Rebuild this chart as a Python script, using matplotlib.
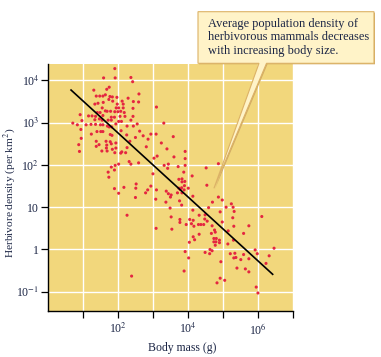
import numpy as np
import matplotlib
matplotlib.use("Agg")
import matplotlib.pyplot as plt
import matplotlib.transforms as mtransforms
from matplotlib.patches import Polygon

plt.rcParams['font.family'] = ['Liberation Serif', 'DejaVu Serif']
plt.rcParams['mathtext.fontset'] = 'stix'

# log10 of body mass (g) and herbivore density (per km^2)
log_mass = [
    1.90, 1.58, 1.91, 2.36, 2.41, 1.74, 1.67, 1.30, 1.63, 1.37,
    1.47, 1.56, 1.76, 1.83, 1.96, 1.73, 2.11, 2.28, 2.43, 2.59,
    2.58, 1.57, 1.84, 1.97, 2.14, 1.94, 2.01, 2.14, 2.42, 3.09,
    1.42, 1.33, 1.54, 1.63, 1.68, 1.78, 1.90, 1.99, 1.40, 1.48,
    2.07, 2.17, 0.91, 1.15, 1.25, 1.35, 1.56, 1.80, 1.89, 2.05,
    2.19, 2.42, 2.36, 1.46, 1.33, 1.54, 1.71, 1.80, 2.01, 2.09,
    0.70, 0.83, 0.96, 1.08, 1.22, 1.35, 1.49, 1.56, 1.69, 1.74,
    1.81, 1.93, 2.25, 2.43, 2.54, 3.30, 0.93, 1.23, 1.39, 1.50,
    1.56, 1.77, 1.82, 2.08, 2.24, 2.61, 2.93, 3.08, 2.49, 2.71,
    2.85, 0.94, 1.37, 1.65, 1.77, 1.45, 1.67, 1.80, 1.93, 2.33,
    0.87, 3.23, 0.89, 1.37, 1.53, 1.66, 1.68, 1.83, 1.90, 1.93,
    2.10, 2.07, 2.21, 2.25, 2.80, 3.39, 3.02, 3.11, 2.31, 2.36,
    2.58, 2.01, 1.91, 1.80, 1.89, 1.71, 1.73, 2.99, 3.31, 3.43,
    3.41, 2.51, 2.50, 2.16, 1.89, 2.01, 2.93, 2.84, 2.78, 3.09,
    3.37, 3.43, 2.49, 3.07, 3.36, 2.25, 3.08, 2.38, 3.57, 3.91,
    3.59, 3.91, 3.71, 3.91, 4.51, 4.86, 3.87, 4.11, 3.73, 3.82,
    3.82, 3.90, 3.73, 3.81, 3.89, 4.00, 3.77, 3.88, 3.69, 3.82,
    3.51, 3.49, 4.13, 4.53, 4.86, 4.97, 4.69, 4.58, 5.08, 5.23,
    5.28, 3.75, 3.81, 3.48, 4.13, 4.91, 5.31, 4.48, 4.31, 3.51,
    4.04, 4.14, 3.76, 3.76, 4.47, 4.54, 4.44, 4.29, 4.36, 5.27,
    4.97, 4.68, 4.09, 4.16, 3.94, 6.10, 5.73, 5.30, 3.53, 4.75,
    4.77, 4.66, 5.14, 4.31, 4.14, 4.18, 4.03, 4.73, 4.80, 4.89,
    4.73, 4.79, 4.89, 4.77, 5.13, 5.58, 5.29, 3.91, 4.48, 4.62,
    4.68, 4.61, 5.20, 5.33, 5.36, 5.30, 5.58, 5.50, 5.73, 5.91,
    5.97, 6.31, 6.45, 6.22, 4.01, 4.93, 5.39, 5.63, 5.73, 3.88,
    4.91, 5.04, 4.82, 5.94, 5.99,
]
log_density = [
    4.28, 4.06, 4.06, 4.07, 3.97, 3.84, 3.79, 3.77, 3.66, 3.63,
    3.63, 3.63, 3.62, 3.61, 3.60, 3.55, 3.51, 3.58, 3.50, 3.68,
    3.49, 3.48, 3.51, 3.44, 3.44, 3.35, 3.35, 3.35, 3.34, 3.37,
    3.46, 3.44, 3.35, 3.28, 3.27, 3.27, 3.26, 3.26, 3.24, 3.24,
    3.27, 3.24, 3.19, 3.16, 3.16, 3.15, 3.17, 3.13, 3.13, 3.15,
    3.15, 3.15, 3.06, 3.09, 3.07, 3.06, 3.06, 3.06, 3.03, 3.03,
    2.99, 2.95, 3.05, 2.95, 2.96, 2.96, 2.95, 2.95, 2.92, 2.90,
    2.90, 2.97, 2.92, 2.92, 2.97, 2.99, 2.84, 2.73, 2.79, 2.79,
    2.79, 2.72, 2.70, 2.81, 2.71, 2.80, 2.73, 2.73, 2.65, 2.69,
    2.61, 2.63, 2.56, 2.56, 2.55, 2.48, 2.47, 2.50, 2.52, 2.56,
    2.48, 2.52, 2.32, 2.44, 2.33, 2.40, 2.33, 2.37, 2.29, 2.40,
    2.31, 2.28, 2.29, 2.41, 2.43, 2.38, 2.16, 2.21, 2.08, 2.02,
    2.05, 2.02, 1.99, 1.95, 1.88, 1.83, 1.71, 1.79, 1.99, 2.02,
    1.92, 1.55, 1.45, 1.47, 1.44, 1.33, 1.50, 1.41, 1.34, 1.41,
    1.38, 1.32, 1.23, 1.19, 1.12, 0.81, 0.50, -0.63, 2.67, 2.32,
    2.19, 2.15, 1.96, 1.99, 1.93, 2.03, 1.83, 1.74, 1.66, 1.67,
    1.60, 1.61, 1.45, 1.46, 1.51, 1.45, 1.42, 1.41, 1.34, 1.34,
    1.29, 1.24, 1.26, 1.52, 1.24, 1.17, 1.12, 0.99, 1.00, 1.08,
    1.00, 1.15, 1.05, 0.98, 0.93, 0.89, 0.90, 0.82, 0.81, 0.77,
    0.71, 0.69, 0.71, 0.64, 0.72, 0.67, 0.59, 0.59, 0.59, 0.75,
    0.65, 0.56, 0.61, 0.55, 0.59, 0.78, 0.56, 0.55, 0.48, 0.46,
    0.41, 0.38, 0.44, 0.36, 0.30, 0.23, 0.17, 0.26, 0.26, 0.22,
    0.18, 0.18, 0.16, 0.10, 0.13, 0.38, 0.22, -0.05, -0.07, 0.00,
    -0.03, -0.10, -0.10, -0.09, -0.19, -0.20, -0.12, -0.24, -0.22, -0.01,
    -0.10, -0.15, 0.03, -0.33, -0.20, -0.29, -0.44, -0.46, -0.53, -0.51,
    -0.68, -0.73, -0.79, -0.89, -1.03,
]

# fitted line: log10(density) = fit_intercept + fit_slope * log10(mass)
fit_slope = -0.757
fit_intercept = 4.265
fit_mass_range = [10 ** 0.65, 10 ** 6.41]

x_ticks = [1e1, 1e2, 1e3, 1e4, 1e5, 1e6, 1e7]
x_tick_labels = ['', '10$^2$', '', '10$^4$', '', '10$^6$', '']
y_ticks = [1e-1, 1, 1e1, 1e2, 1e3, 1e4]
y_tick_labels = ['10$^{-1}$', '1', '10', '10$^2$', '10$^3$', '10$^4$']

note_text = ("Average population density of\n"
             "herbivorous mammals decreases\n"
             "with increasing body size.")
note_target = (5.4e4, 28)

W, H = 381, 357
text_color = '#1b2545'

fig = plt.figure(figsize=(W / 100, H / 100), dpi=100)
ax = fig.add_axes([48.3 / W, (H - 311) / H, 245 / W, 247 / H])
ax.set_facecolor('#f2d77c')

mass = 10 ** np.array(log_mass)
density = 10 ** np.array(log_density)
ax.scatter(mass, density, s=5, marker='o', color='#e42640',
           edgecolors='none', zorder=3)

fit_x = np.array(fit_mass_range)
fit_y = 10 ** (fit_intercept + fit_slope * np.log10(fit_x))
ax.plot(fit_x, fit_y, color='black', lw=1.2, zorder=4)

ax.set_xscale('log')
ax.set_yscale('log')
ax.set_xlim(1, 1e7)
ax.set_ylim(10 ** -1.456, 10 ** 4.389)
ax.set_xticks(x_ticks)
ax.set_xticklabels(x_tick_labels)
ax.set_yticks(y_ticks)
ax.set_yticklabels(y_tick_labels)
ax.minorticks_off()
ax.tick_params(axis='both', direction='out', length=5, width=0.9,
               color='black', labelsize=8.5, labelcolor=text_color)
ax.tick_params(axis='y', pad=1.5)
ax.tick_params(axis='x', pad=3)

ax.grid(True, color='white', lw=1.0)
ax.set_axisbelow(True)
for side in ['top', 'right']:
    ax.spines[side].set_visible(False)
for side in ['left', 'bottom']:
    ax.spines[side].set_linewidth(1.0)

ax.set_xlabel('Body mass (g)', fontsize=8.5, color=text_color)
ax.xaxis.set_label_coords(0.546, -0.125)
ax.set_ylabel('Herbivore density (per km$^2$)', fontsize=8.2, color=text_color)
ax.yaxis.set_label_coords(-0.122, 0.48)

# callout box with a pointer, in pixel coordinates measured from the top left
px = mtransforms.Affine2D().scale(1 / W, -1 / H).translate(0, 1) + fig.transFigure
tip_disp = ax.transData.transform(note_target)
tip = (tip_disp[0], H - tip_disp[1])
left, right, top, bottom = 198, 374, 11.7, 63.3
outline = [(left, top), (right, top), (right, bottom), (266.5, bottom),
           tip, (259, bottom), (left, bottom)]
shadow = Polygon([(x + 1.0, y + 1.0) for x, y in outline], closed=True,
                 transform=px, facecolor='#d2ac64', edgecolor='none',
                 zorder=9, clip_on=False)
box = Polygon(outline, closed=True, transform=px, facecolor='#fff3c8',
              edgecolor='#dcb266', lw=0.8, zorder=10, clip_on=False)
fig.add_artist(shadow)
fig.add_artist(box)
fig.text(208 / W, 1 - 37.5 / H, note_text, ha='left', va='center',
         fontsize=8.9, color=text_color, linespacing=1.18, zorder=11)

plt.savefig('out.png', dpi=100)
